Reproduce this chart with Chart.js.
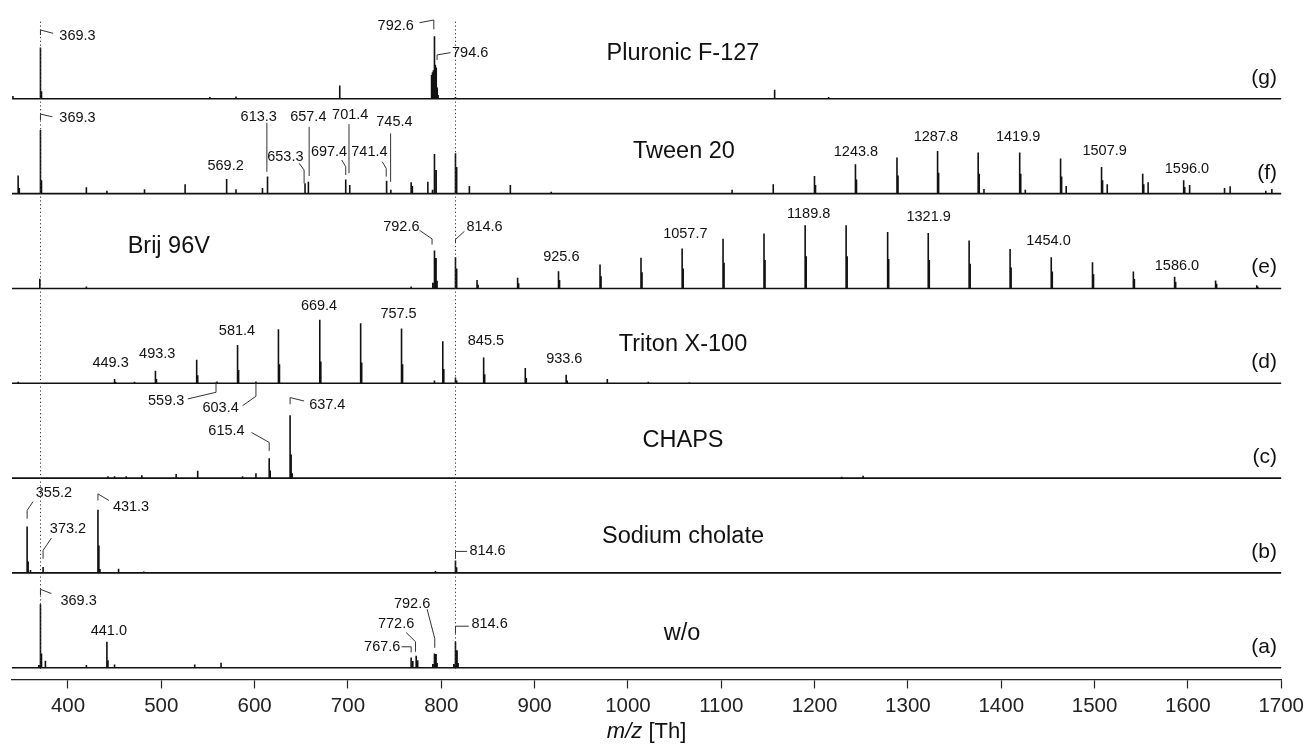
<!DOCTYPE html>
<html>
<head>
<meta charset="utf-8">
<script src="https://cdn.jsdelivr.net/npm/chart.js@4.4.1/dist/chart.umd.min.js"></script>
<style>
  html, body { margin: 0; padding: 0; background: #fff; }
</style>
</head>
<body>
<canvas id="canvas" width="1310" height="745"></canvas>
<script>
// m/z axis tick labels
var XTICKS = [400, 500, 600, 700, 800, 900, 1000, 1100, 1200, 1300, 1400, 1500, 1600, 1700];

// peak lists, intensity in % of panel height
var mzG = [341.0, 370.5, 371.6, 552.0, 580.0, 691.2, 789.6, 790.6, 791.6, 792.7, 793.6, 794.6, 795.6, 796.6, 815.2, 1157.2, 1215.0];
var intG = [3, 54, 8, 2, 2.5, 14, 25, 28, 30, 66, 36, 33, 12, 4, 2, 9.5, 2];

var mzF = [346.6, 347.8, 370.5, 371.6, 419.7, 441.7, 482.0, 525.5, 570.0, 580.0, 608.4, 613.8, 654.0, 657.6, 697.6, 701.9, 741.4, 746.0, 767.7, 769.0, 785.6, 790.6, 792.7, 794.5, 815.2, 816.5, 830.1, 874.0, 917.8, 1111.6, 1155.7, 1199.9, 1201.0, 1243.8, 1244.9, 1288.3, 1289.4, 1331.8, 1332.9, 1375.3, 1376.4, 1381.5, 1419.8, 1420.9, 1425.8, 1463.6, 1464.7, 1469.6, 1507.5, 1508.6, 1513.6, 1551.6, 1552.7, 1557.4, 1595.5, 1596.6, 1601.9, 1639.3, 1645.3, 1683.5, 1690.0];
var intF = [19, 6, 67, 14, 6.7, 3, 4.6, 10, 15.5, 4.5, 6, 18, 11, 12.6, 15, 9, 13.7, 4, 12, 8, 12.6, 4, 41.8, 25, 42.5, 28, 8, 9, 2, 4, 10, 18.6, 9, 31, 15, 38, 19, 45, 22, 43.5, 21, 5, 43.5, 21, 4, 37, 18, 8, 28, 14, 10, 21, 10, 12, 14, 7, 9, 6, 7.7, 3, 5];

var mzE = [369.8, 419.7, 767.7, 790.9, 792.7, 794.4, 795.5, 815.2, 816.5, 838.3, 839.4, 881.8, 882.9, 925.6, 926.7, 970.1, 971.2, 1014.0, 1015.1, 1058.1, 1059.2, 1101.9, 1103.0, 1145.8, 1146.9, 1189.9, 1191.0, 1233.8, 1234.9, 1278.3, 1279.4, 1321.8, 1322.9, 1365.6, 1366.7, 1409.5, 1410.6, 1453.6, 1454.7, 1497.8, 1498.9, 1541.6, 1542.7, 1585.8, 1586.9, 1629.7, 1630.8, 1673.8, 1674.9];
var intE = [10.2, 2, 2, 6, 40, 32, 8, 33, 21, 8.8, 4, 11.2, 5.5, 18.2, 9, 25.3, 13, 32.3, 17, 42.1, 21, 52.3, 27, 57.9, 30, 66.6, 34, 66.6, 34, 59.6, 31, 58.6, 30, 50.5, 26, 41.7, 22, 33.0, 18, 27.7, 15, 17.9, 10, 12.3, 7, 8.4, 5, 3.5, 2];

var mzD = [346.6, 449.9, 451.0, 471.3, 493.7, 494.8, 537.9, 539.0, 559.7, 581.7, 582.8, 601.4, 625.5, 626.6, 669.8, 670.9, 713.6, 714.7, 757.4, 758.5, 792.7, 801.6, 802.7, 815.2, 816.5, 845.4, 846.5, 890.0, 891.1, 933.8, 934.9, 977.9, 1021.8, 1065.8];
var intD = [1.5, 4.5, 1.5, 1.5, 13.3, 4.5, 24.8, 8.5, 2, 40.3, 14, 1.8, 57.1, 20, 66.9, 23, 63.4, 22, 57.8, 20, 3, 44.2, 15, 6, 3, 27.3, 9.5, 16.1, 5.5, 9.1, 3, 4.5, 1.5, 1];

var mzC = [442.8, 449.9, 462.4, 479.1, 515.9, 539.0, 587.1, 601.4, 615.6, 616.7, 638.0, 639.1, 640.2, 1229.0, 1252.0];
var intC = [2, 2, 2, 3, 4.2, 7.7, 2, 5, 21, 8, 66.3, 25, 5, 1.5, 2.5];

var mzB = [356.2, 357.3, 359.8, 373.3, 432.1, 433.1, 434.2, 454.2, 481.2, 600.0, 793.8, 815.2, 816.4, 1640.0];
var intB = [49, 12, 3, 6.3, 66.6, 29, 4, 4.5, 1.5, 1, 2, 13, 6, 1];

var mzA = [368.7, 370.5, 371.6, 375.8, 419.7, 441.7, 442.8, 449.9, 535.8, 564.0, 767.7, 769.5, 773.1, 774.7, 790.9, 792.7, 794.4, 795.5, 813.4, 815.2, 816.9, 818.0];
var intA = [3, 66.9, 15, 7.4, 3, 27.4, 8, 3.5, 3.5, 5.3, 10.8, 7, 12.6, 8, 4, 15, 14.4, 5, 4, 27.3, 18.5, 5];

var panelNames = ['w/o', 'Sodium cholate', 'CHAPS', 'Triton X-100', 'Brij 96V', 'Tween 20', 'Pluronic F-127'];
var panelTags = ['(a)', '(b)', '(c)', '(d)', '(e)', '(f)', '(g)'];
var markedMz = [370.5, 815.2]; // dotted reference lines

// peak annotations: text, anchor (m/z, % of panel), align, leader polyline
var labelsA = [
  {t: '369.3', m: 391.9, y: 70.1, a: 'left', l: [[370.5, 76.4], [370.5, 82.7], [382.3, 78.2]]},
  {t: '441.0', m: 443.8, y: 38.9},
  {t: '792.6', m: 768.7, y: 67.6, l: [[784.8, 61.7], [793.0, 30.8], [793.0, 21.0]]},
  {t: '772.6', m: 751.6, y: 45.9, l: [[762.4, 37.1], [772.4, 27.4], [772.4, 16.8]]},
  {t: '767.6', m: 736.7, y: 22.1, l: [[757.4, 22.1], [767.7, 22.1], [767.7, 16.1]]},
  {t: '814.6', m: 832.3, y: 45.9, a: 'left', l: [[815.2, 36.1], [815.2, 43.8], [829.4, 43.8]]}
];
var labelsB = [
  {t: '355.2', m: 384.9, y: 84.2, l: [[362.6, 75.3], [356.2, 65.9], [356.2, 57.1]]},
  {t: '373.2', m: 400.0, y: 45.9, l: [[382.3, 36.8], [373.3, 23.8], [373.3, 15.0]]},
  {t: '431.3', m: 448.1, y: 69.4, a: 'left', l: [[432.1, 76.4], [432.1, 83.4], [443.8, 76.4]]},
  {t: '814.6', m: 830.1, y: 23.1, a: 'left', l: [[815.2, 15.0], [815.2, 22.7], [827.6, 22.7]]}
];
var labelsC = [
  {t: '637.4', m: 658.4, y: 76.8, a: 'left', l: [[638.0, 77.9], [638.0, 84.9], [653.0, 81.3]]},
  {t: '615.4', m: 569.8, y: 49.8, l: [[596.7, 48.1], [615.6, 37.6], [615.6, 28.7]]}
];
var labelsD = [
  {t: '449.3', m: 445.6, y: 21.4},
  {t: '493.3', m: 495.6, y: 30.8},
  {t: '581.4', m: 581.1, y: 55.3},
  {t: '669.4', m: 669.0, y: 81.0},
  {t: '757.5', m: 754.2, y: 72.9},
  {t: '845.5', m: 847.8, y: 44.2},
  {t: '933.6', m: 931.8, y: 25.6},
  {t: '559.3', m: 505.2, y: -18.3, l: [[528.3, -16.5], [558.6, -9.5], [558.6, 1.4]]},
  {t: '603.4', m: 563.5, y: -26.3, l: [[587.1, -23.6], [601.4, -13.7], [601.4, 1.4]]}
];
var labelsE = [
  {t: '792.6', m: 757.2, y: 64.5, l: [[776.7, 61.3], [790.1, 52.3], [790.1, 46.3]]},
  {t: '814.6', m: 826.9, y: 64.9, a: 'left', l: [[824.8, 60.3], [815.2, 51.6], [815.2, 48.1]]},
  {t: '925.6', m: 928.6, y: 33.4},
  {t: '1057.7', m: 1061.5, y: 57.5},
  {t: '1189.8', m: 1193.7, y: 78.9},
  {t: '1321.9', m: 1322.2, y: 75.4},
  {t: '1454.0', m: 1450.7, y: 50.5},
  {t: '1586.0', m: 1588.3, y: 24.2}
];
var labelsF = [
  {t: '369.3', m: 390.7, y: 79.3, a: 'left', l: [[370.5, 77.5], [370.5, 83.9], [383.3, 81.0]]},
  {t: '613.3', m: 604.4, y: 81.0, l: [[613.1, 74.7], [613.1, 23.1]]},
  {t: '657.4', m: 657.5, y: 81.0, l: [[658.4, 70.5], [658.4, 18.6]]},
  {t: '701.4', m: 702.4, y: 82.8, l: [[701.1, 73.3], [701.1, 21.5]]},
  {t: '745.4', m: 749.8, y: 75.8, l: [[745.7, 63.5], [745.7, 12.6]]},
  {t: '569.2', m: 568.9, y: 29.5},
  {t: '653.3', m: 632.9, y: 38.9, l: [[647.7, 32.0], [653.0, 24.9], [653.0, 10.9]]},
  {t: '697.4', m: 679.7, y: 44.2, l: [[693.3, 35.5], [697.6, 28.4], [697.6, 19.7]]},
  {t: '741.4', m: 723.0, y: 44.2, l: [[736.7, 33.7], [741.0, 26.7], [741.0, 17.9]]},
  {t: '1243.8', m: 1244.3, y: 44.2},
  {t: '1287.8', m: 1330.0, y: 60.0},
  {t: '1419.9', m: 1418.1, y: 60.0},
  {t: '1507.9', m: 1510.8, y: 44.9},
  {t: '1596.0', m: 1599.0, y: 26.0}
];
var labelsG = [
  {t: '369.3', m: 390.7, y: 66.3, a: 'left', l: [[370.5, 67.3], [370.5, 72.6], [384.0, 69.1]]},
  {t: '792.6', m: 770.6, y: 77.1, a: 'right', l: [[776.7, 80.3], [792.0, 83.1], [792.0, 73.3]]},
  {t: '794.6', m: 811.5, y: 48.1, a: 'left', l: [[795.5, 41.0], [795.5, 46.3], [809.8, 48.7]]}
];

// where the panel names sit (m/z, % of panel)
var nameX = [1058, 1059, 1059, 1059, 508, 1060, 1059];
var nameY = [36.1, 37.9, 39.2, 41.3, 43.9, 44.2, 47.3];

var FONT = '"Liberation Sans", Arial, Helvetica, sans-serif';
var INK = '#111';

var panels = [
  {id: 'ya', mz: mzA, val: intA, labels: labelsA},
  {id: 'yb', mz: mzB, val: intB, labels: labelsB},
  {id: 'yc', mz: mzC, val: intC, labels: labelsC},
  {id: 'yd', mz: mzD, val: intD, labels: labelsD},
  {id: 'ye', mz: mzE, val: intE, labels: labelsE},
  {id: 'yf', mz: mzF, val: intF, labels: labelsF},
  {id: 'yg', mz: mzG, val: intG, labels: labelsG}
];

// stick spectrum: baseline with a vertical stroke for every peak
function sticks(mz, val) {
  var idx = mz.map(function(m, i) { return i; }).sort(function(p, q) { return mz[p] - mz[q]; });
  var pts = [{x: 340, y: 0}];
  idx.forEach(function(i) {
    pts.push({x: mz[i], y: 0}, {x: mz[i], y: val[i]}, {x: mz[i], y: 0});
  });
  pts.push({x: 1700, y: 0});
  return pts;
}

var datasets = panels.map(function(p) {
  return {
    data: sticks(p.mz, p.val),
    xAxisID: 'x',
    yAxisID: p.id,
    borderColor: INK,
    borderWidth: 1.6,
    pointRadius: 0,
    tension: 0,
    fill: false,
    clip: false
  };
});

var scales = {
  x: {
    type: 'linear', min: 340, max: 1700, position: 'bottom',
    afterBuildTicks: function(s) { s.ticks = XTICKS.map(function(v) { return {value: v}; }); },
    ticks: {
      font: {family: FONT, size: 20.5}, color: '#222', padding: 6, maxRotation: 0, autoSkip: false,
      callback: function(v) { return String(v); }
    },
    grid: { drawOnChartArea: false, tickLength: 9, color: '#222', tickWidth: 1.2 },
    border: { color: '#222', width: 1.3 }
  }
};
panels.forEach(function(p, i) {
  scales[p.id] = {
    type: 'linear', display: false, position: 'left', stack: 'ms',
    stackWeight: i === 0 ? 1.123 : 1,
    min: i === 0 ? -12.3 : 0,
    max: 100
  };
});

var annotate = {
  id: 'annotate',
  afterDatasetsDraw: function(chart) {
    var ctx = chart.ctx, xs = chart.scales.x, area = chart.chartArea;
    ctx.save();
    ctx.strokeStyle = '#333';
    ctx.fillStyle = INK;

    // dotted guide lines through all panels
    ctx.setLineDash([1.2, 2.6]);
    ctx.lineWidth = 1;
    markedMz.forEach(function(m) {
      var px = Math.round(xs.getPixelForValue(m)) + 0.5;
      ctx.beginPath();
      ctx.moveTo(px, chart.scales.yg.getPixelForValue(81.3));
      ctx.lineTo(px, chart.scales.ya.getPixelForValue(-4.2));
      ctx.stroke();
    });
    ctx.setLineDash([]);

    panels.forEach(function(p, i) {
      var ys = chart.scales[p.id];
      ctx.lineWidth = 1;
      ctx.textBaseline = 'middle';
      ctx.font = '14.5px ' + FONT;
      p.labels.forEach(function(l) {
        ctx.textAlign = l.a || 'center';
        ctx.fillText(l.t, xs.getPixelForValue(l.m), ys.getPixelForValue(l.y));
        if (l.l) {
          ctx.beginPath();
          l.l.forEach(function(pt, k) {
            var px = xs.getPixelForValue(pt[0]), py = ys.getPixelForValue(pt[1]);
            if (k) ctx.lineTo(px, py); else ctx.moveTo(px, py);
          });
          ctx.stroke();
        }
      });
      ctx.font = '23.5px ' + FONT;
      ctx.textAlign = 'center';
      ctx.fillText(panelNames[i], xs.getPixelForValue(nameX[i]), ys.getPixelForValue(nameY[i]));
      ctx.font = '21px ' + FONT;
      ctx.textAlign = 'right';
      ctx.fillText(panelTags[i], xs.getPixelForValue(1695.5), ys.getPixelForValue(22));
    });

    // axis title with italic m/z
    var cx = (area.left + area.right) / 2, ty = 731.5;
    ctx.textAlign = 'left';
    ctx.font = 'italic 22px ' + FONT;
    var w1 = ctx.measureText('m/z').width;
    ctx.font = '22px ' + FONT;
    var w2 = ctx.measureText(' [Th]').width;
    var x0 = cx - (w1 + w2) / 2;
    ctx.font = 'italic 22px ' + FONT;
    ctx.fillText('m/z', x0, ty);
    ctx.font = '22px ' + FONT;
    ctx.fillText(' [Th]', x0 + w1, ty);
    ctx.restore();
  }
};

var ctx = document.getElementById('canvas').getContext('2d');
window.msChart = new Chart(ctx, {
  type: 'line',
  data: { datasets: datasets },
  options: {
    responsive: false,
    animation: false,
    devicePixelRatio: 1,
    layout: { padding: { left: 12, right: 26, top: 4, bottom: 20 } },
    plugins: { legend: { display: false }, tooltip: { enabled: false } },
    scales: scales
  },
  plugins: [annotate]
});
</script>
</body>
</html>
